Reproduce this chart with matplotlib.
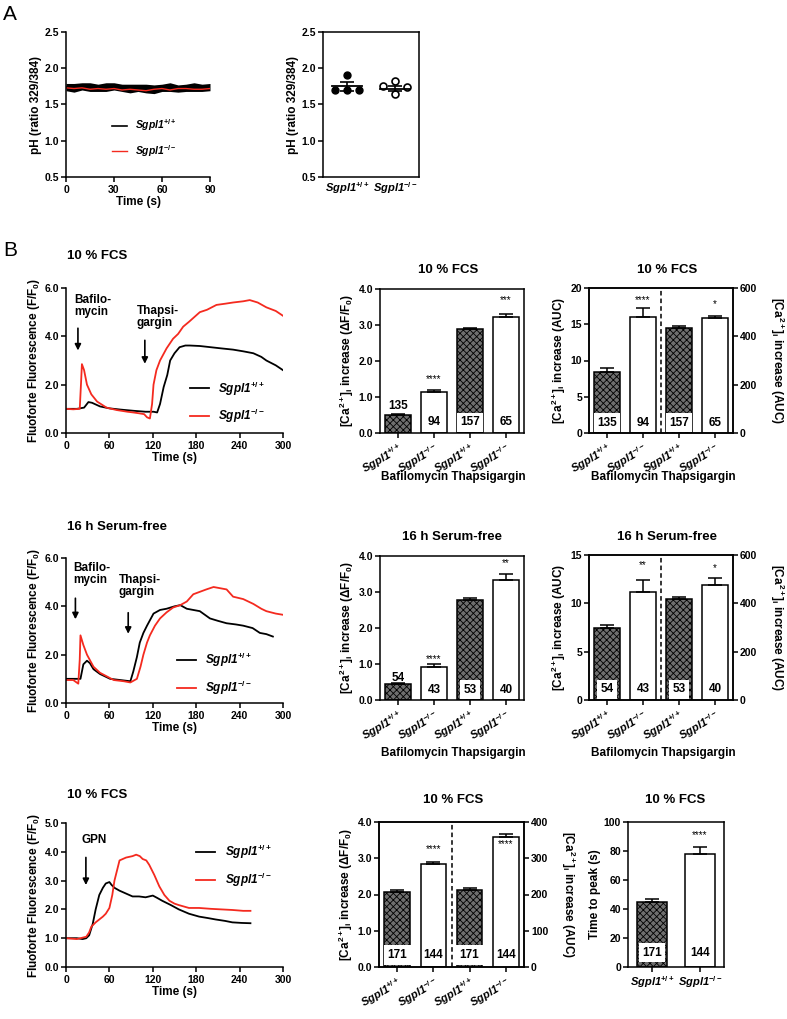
import matplotlib
matplotlib.use('Agg')
import matplotlib.pyplot as plt

plt.rcParams['font.family'] = ['Liberation Sans', 'DejaVu Sans']
plt.rcParams['font.weight'] = 'bold'
plt.rcParams['axes.labelweight'] = 'bold'
plt.rcParams['mathtext.fontset'] = 'custom'
plt.rcParams['mathtext.rm'] = 'Liberation Sans:bold'
plt.rcParams['mathtext.it'] = 'Liberation Sans:bold:italic'
plt.rcParams['mathtext.bf'] = 'Liberation Sans:bold'
plt.rcParams['mathtext.sf'] = 'Liberation Sans:bold'
plt.rcParams['mathtext.default'] = 'rm'
plt.rcParams['axes.linewidth'] = 1.1
plt.rcParams['xtick.major.width'] = 1.1
plt.rcParams['ytick.major.width'] = 1.1
plt.rcParams['xtick.major.size'] = 3.5
plt.rcParams['ytick.major.size'] = 3.5
plt.rcParams['xtick.major.pad'] = 2
plt.rcParams['ytick.major.pad'] = 1.5
plt.rcParams['xtick.labelsize'] = 7.5
plt.rcParams['ytick.labelsize'] = 7.5
plt.rcParams['hatch.linewidth'] = 0.6

WT = 'Sgpl1$^{+/+}$'
KO = 'Sgpl1$^{-/-}$'
RED = '#f42a1f'
LAB = 8.5     # axis label size
TITLE = 9.5

# ---- Panel A: pH over time ----
tA = [0, 5, 10, 15, 20, 25, 30, 35, 40, 45, 50, 55, 60, 65, 70, 75, 80, 85, 90]
phA_wt = [1.74, 1.73, 1.75, 1.74, 1.73, 1.74, 1.75, 1.73, 1.72, 1.73, 1.72, 1.71, 1.73, 1.74, 1.72, 1.73, 1.74, 1.73, 1.74]
phA_wt_sem = [0.05, 0.06, 0.05, 0.06, 0.05, 0.06, 0.05, 0.05, 0.06, 0.05, 0.06, 0.06, 0.05, 0.06, 0.05, 0.05, 0.06, 0.05, 0.05]
phA_ko = [1.73, 1.72, 1.73, 1.71, 1.72, 1.71, 1.72, 1.70, 1.71, 1.70, 1.69, 1.71, 1.72, 1.70, 1.72, 1.72, 1.71, 1.71, 1.72]

# Panel A: pH per experiment
ph_wt_pts = [1.90, 1.70, 1.70, 1.70]
ph_ko_pts = [1.83, 1.76, 1.74, 1.64]
ph_wt_mean, ph_wt_sem = 1.75, 0.06
ph_ko_mean, ph_ko_sem = 1.72, 0.04

# ---- Panel B traces ----
t1_wt = [0, 15, 25, 31, 36, 47, 60, 75, 93, 110, 121, 126, 130, 135, 140, 144, 150, 157, 165, 171, 185, 200, 215, 231, 245, 259, 270, 277, 290, 300]
y1_wt = [1.0, 1.0, 1.05, 1.28, 1.25, 1.1, 1.02, 0.97, 0.92, 0.88, 0.88, 0.85, 1.2, 1.9, 2.4, 3.0, 3.3, 3.55, 3.62, 3.62, 3.6, 3.55, 3.5, 3.45, 3.38, 3.3, 3.15, 3.0, 2.8, 2.6]
t1_ko = [0, 10, 19, 21, 22, 25, 29, 35, 43, 56, 70, 85, 93, 100, 108, 112, 116, 119, 121, 125, 130, 139, 148, 155, 162, 170, 185, 195, 208, 220, 231, 245, 254, 265, 277, 290, 300]
y1_ko = [1.0, 0.98, 1.0, 2.2, 2.85, 2.6, 2.0, 1.6, 1.3, 1.05, 0.95, 0.88, 0.85, 0.82, 0.78, 0.65, 0.6, 1.2, 2.0, 2.6, 3.0, 3.5, 3.9, 4.1, 4.4, 4.6, 5.0, 5.1, 5.3, 5.35, 5.4, 5.45, 5.5, 5.4, 5.2, 5.05, 4.85]

t2_wt = [0, 10, 20, 24, 29, 33, 38, 47, 61, 75, 89, 93, 98, 102, 107, 112, 121, 130, 139, 150, 158, 167, 176, 185, 199, 210, 222, 235, 245, 258, 268, 277, 286]
y2_wt = [1.0, 1.0, 1.0, 1.6, 1.75, 1.65, 1.4, 1.2, 1.0, 0.95, 0.9, 1.3, 1.9, 2.5, 2.9, 3.2, 3.7, 3.85, 3.9, 4.0, 4.05, 3.9, 3.85, 3.8, 3.5, 3.4, 3.3, 3.25, 3.2, 3.1, 2.9, 2.85, 2.75]
t2_ko = [0, 10, 17, 19, 20, 24, 29, 38, 47, 66, 80, 89, 98, 103, 107, 112, 116, 123, 130, 139, 148, 158, 167, 176, 185, 194, 204, 213, 222, 231, 245, 259, 270, 277, 290, 300]
y2_ko = [0.95, 0.95, 0.8, 1.8, 2.8, 2.4, 2.0, 1.5, 1.25, 0.95, 0.9, 0.85, 1.0, 1.5, 2.0, 2.5, 2.8, 3.2, 3.5, 3.75, 3.95, 4.05, 4.2, 4.5, 4.6, 4.7, 4.8, 4.75, 4.7, 4.4, 4.3, 4.1, 3.9, 3.8, 3.7, 3.65]

t3_wt = [0, 15, 23, 28, 32, 37, 41, 46, 51, 55, 60, 63, 67, 74, 83, 92, 101, 110, 120, 126, 133, 145, 156, 170, 184, 196, 207, 220, 230, 243, 255]
y3_wt = [1.0, 1.0, 0.97, 1.0, 1.1, 1.5, 2.0, 2.5, 2.75, 2.9, 2.95, 2.85, 2.75, 2.65, 2.55, 2.45, 2.45, 2.42, 2.48, 2.4, 2.3, 2.15, 2.0, 1.85, 1.75, 1.7, 1.65, 1.6, 1.55, 1.53, 1.52]
t3_ko = [0, 15, 28, 32, 35, 41, 46, 51, 55, 60, 64, 67, 71, 74, 83, 92, 97, 102, 106, 111, 115, 122, 129, 136, 143, 150, 156, 170, 184, 200, 215, 230, 245, 255]
y3_ko = [1.0, 0.97, 1.05, 1.2, 1.4, 1.55, 1.65, 1.75, 1.85, 2.05, 2.5, 3.0, 3.4, 3.7, 3.8, 3.85, 3.9, 3.85, 3.75, 3.7, 3.55, 3.2, 2.8, 2.5, 2.3, 2.2, 2.15, 2.05, 2.05, 2.02, 2.0, 1.98, 1.95, 1.95]

# ---- Panel B bar data (bars: WT, KO bafilomycin; WT, KO thapsigargin) ----
n1 = ['135', '94', '157', '65']
dff1 = [0.50, 1.13, 2.90, 3.22]
dff1_err = [0.04, 0.06, 0.03, 0.09]
auc1_baf = [8.4, 16.0]
auc1_baf_err = [0.5, 1.2]
auc1_tg = [435, 474]
auc1_tg_err = [6, 12]

n2 = ['54', '43', '53', '40']
dff2 = [0.45, 0.92, 2.77, 3.32]
dff2_err = [0.03, 0.09, 0.07, 0.18]
auc2_baf = [7.4, 11.2]
auc2_baf_err = [0.4, 1.2]
auc2_tg = [416, 476]
auc2_tg_err = [12, 28]

n3 = ['171', '144', '171', '144']
dff3 = [2.07, 2.83]
dff3_err = [0.06, 0.08]
auc3 = [212, 360]
auc3_err = [6, 6]
ttp3 = [45, 78]
ttp3_err = [2, 4.5]

W, H = 787, 1019
fig = plt.figure(figsize=(W / 100, H / 100), dpi=100)


def box(x0, y0, x1, y1):
    return fig.add_axes([x0 / W, 1 - y1 / H, (x1 - x0) / W, (y1 - y0) / H])


def ftext(x, y, s, **kw):
    fig.text(x / W, 1 - y / H, s, **kw)


def bars(ax, xs, vals, errs, hatched, width=0.7):
    for x, v, e, h in zip(xs, vals, errs, hatched):
        if h:
            ax.bar(x, v, width, color='#6e6e6e', edgecolor='black', hatch='xxxxx', lw=1.1, zorder=2)
        else:
            ax.bar(x, v, width, color='white', edgecolor='black', lw=1.1, zorder=2)
        ax.errorbar(x, v, yerr=[[0], [e]], fmt='none', ecolor='black', elinewidth=1.1,
                    capsize=5, capthick=1.1, zorder=3)


def nlabel(ax, x, y, s, boxed=False):
    kw = dict(ha='center', va='center', fontsize=8.5, fontweight='bold', zorder=5)
    if boxed:
        kw['bbox'] = dict(boxstyle='square,pad=0.3', fc='white', ec='none')
    ax.text(x, y, s, **kw)


def stars(ax, x, y, s):
    ax.text(x, y, s, ha='center', va='center', fontsize=7, fontweight='normal', zorder=5)


def geno_ticks(ax, labels, rotate=True):
    ax.set_xticks(range(len(labels)))
    if rotate:
        ax.set_xticklabels(labels, rotation=30, ha='right', rotation_mode='anchor',
                           fontstyle='italic', fontsize=8)
    else:
        ax.set_xticklabels(labels, fontstyle='italic', fontsize=8)


def right_label(ax2, s):
    ax2.set_ylabel(s, fontsize=LAB, rotation=-90, va='bottom', labelpad=8)


def trace(ax, tw, yw, tk, yk, ymax, ystep, leg_xy):
    ax.plot(tw, yw, color='black', lw=1.3, label=WT)
    ax.plot(tk, yk, color=RED, lw=1.3, label=KO)
    ax.set_xlim(0, 300)
    ax.set_xticks(range(0, 301, 60))
    ax.set_ylim(0, ymax)
    ax.set_yticks([i * ystep for i in range(int(round(ymax / ystep)) + 1)])
    ax.yaxis.set_major_formatter('{x:.1f}')
    ax.spines[['top', 'right']].set_visible(False)
    ax.set_xlabel('Time (s)', fontsize=LAB, labelpad=1)
    ax.set_ylabel('Fluoforte Fluorescence (F/F$_0$)', fontsize=LAB, labelpad=2)
    ax.legend(frameon=False, loc='upper left', bbox_to_anchor=leg_xy, borderaxespad=0,
              borderpad=0, handlelength=1.6, handletextpad=0.8, labelspacing=0.8,
              prop=dict(style='italic', weight='bold', size=8.5))


def arrow(ax, t, y0, y1):
    ax.annotate('', xy=(t, y1), xytext=(t, y0),
                arrowprops=dict(arrowstyle='-|>', color='black', lw=1.2, mutation_scale=9))


CA_DFF = '[Ca$^{2+}$]$_\\mathrm{i}$ increase (ΔF/F$_0$)'
CA_AUC = '[Ca$^{2+}$]$_\\mathrm{i}$ increase (AUC)'

# ================= Panel A =================
ftext(3, 15, 'A', fontsize=15, fontweight='normal', va='center')

ax = box(66, 32, 210, 177)
lo = [m - s for m, s in zip(phA_wt, phA_wt_sem)]
hi = [m + s for m, s in zip(phA_wt, phA_wt_sem)]
ax.fill_between(tA, lo, hi, color='black', lw=0)
ax.plot(tA, phA_wt, color='black', lw=1.2, label=WT)
ax.plot(tA, phA_ko, color=RED, lw=1.0, label=KO)
ax.set_xlim(0, 90)
ax.set_xticks([0, 30, 60, 90])
ax.set_ylim(0.5, 2.5)
ax.set_yticks([0.5, 1.0, 1.5, 2.0, 2.5])
ax.yaxis.set_major_formatter('{x:.1f}')
ax.spines[['top', 'right']].set_visible(False)
ax.set_xlabel('Time (s)', fontsize=LAB, labelpad=1)
ax.set_ylabel('pH (ratio 329/384)', fontsize=LAB, labelpad=2)
ax.legend(frameon=False, loc='upper left', bbox_to_anchor=(0.32, 0.41), borderaxespad=0,
          borderpad=0, handlelength=1.4, handletextpad=0.8, labelspacing=0.9,
          prop=dict(style='italic', weight='bold', size=7.5))

ax = box(323, 32, 419, 177)
jit = [0.0, -0.24, 0.0, 0.24]
jit_ko = [0.0, -0.24, 0.24, 0.0]
ax.plot([0 + j for j in jit], ph_wt_pts, 'o', ms=5, color='black', zorder=3)
ax.plot([1 + j for j in jit_ko], ph_ko_pts, 'o', ms=5, mfc='white', mec='black', mew=1.2, zorder=3)
for x, m, s in [(0, ph_wt_mean, ph_wt_sem), (1, ph_ko_mean, ph_ko_sem)]:
    ax.plot([x - 0.32, x + 0.32], [m, m], color='black', lw=1.3, zorder=4)
    ax.errorbar(x, m, yerr=s, fmt='none', ecolor='black', elinewidth=1.2, capsize=5, capthick=1.2, zorder=4)
ax.set_xlim(-0.5, 1.5)
ax.set_ylim(0.5, 2.5)
ax.set_yticks([0.5, 1.0, 1.5, 2.0, 2.5])
ax.yaxis.set_major_formatter('{x:.1f}')
ax.tick_params(axis='x', length=0)
geno_ticks(ax, [WT, KO], rotate=False)
ax.set_ylabel('pH (ratio 329/384)', fontsize=LAB, labelpad=2)

# ================= Panel B =================
ftext(3, 250, 'B', fontsize=15, fontweight='normal', va='center')

# ---- row 1: 10 % FCS ----
ftext(67, 256, '10 % FCS', fontsize=TITLE, va='center')
ax = box(66, 288, 283, 433)
trace(ax, t1_wt, y1_wt, t1_ko, y1_ko, 6.0, 2.0, (0.57, 0.37))
arrow(ax, 16.5, 4.45, 3.3)
arrow(ax, 109, 3.95, 2.75)
ax.text(12, 5.75, 'Bafilo-\nmycin', fontsize=8.5, va='top', ha='left', linespacing=1.05)
ax.text(98, 5.3, 'Thapsi-\ngargin', fontsize=8.5, va='top', ha='left', linespacing=1.05)

ftext(448, 270, '10 % FCS', fontsize=TITLE, ha='center', va='center')
ax = box(380, 289, 524, 433)
bars(ax, range(4), dff1, dff1_err, [True, False, True, False])
ax.set_xlim(-0.5, 3.5)
ax.set_ylim(0, 4)
ax.set_yticks([0, 1, 2, 3, 4])
ax.yaxis.set_major_formatter('{x:.1f}')
geno_ticks(ax, [WT, KO, WT, KO])
ax.set_ylabel(CA_DFF, fontsize=LAB, labelpad=2)
nlabel(ax, 0, 0.75, n1[0])
nlabel(ax, 1, 0.3, n1[1])
nlabel(ax, 2, 0.3, n1[2], boxed=True)
nlabel(ax, 3, 0.3, n1[3])
stars(ax, 1, 1.5, '****')
stars(ax, 3, 3.7, '***')
ftext(453, 477, 'Bafilomycin Thapsigargin', fontsize=LAB, ha='center', va='center')

ftext(667, 270, '10 % FCS', fontsize=TITLE, ha='center', va='center')
ax = box(589, 288, 733, 433)
ax2 = ax.twinx()
bars(ax, [0, 1], auc1_baf, auc1_baf_err, [True, False])
bars(ax2, [2, 3], auc1_tg, auc1_tg_err, [True, False])
ax.set_xlim(-0.5, 3.5)
ax.set_ylim(0, 20)
ax.set_yticks([0, 5, 10, 15, 20])
ax2.set_ylim(0, 600)
ax2.set_yticks([0, 200, 400, 600])
ax.axvline(1.5, color='black', lw=1.1, ls=(0, (3, 2)))
geno_ticks(ax, [WT, KO, WT, KO])
ax.set_ylabel(CA_AUC, fontsize=LAB, labelpad=2)
right_label(ax2, CA_AUC)
nlabel(ax, 0, 1.4, n1[0], boxed=True)
nlabel(ax, 1, 1.4, n1[1])
nlabel(ax2, 2, 42, n1[2], boxed=True)
nlabel(ax2, 3, 42, n1[3])
stars(ax, 1, 18.4, '****')
stars(ax2, 3, 534, '*')
ftext(663, 477, 'Bafilomycin Thapsigargin', fontsize=LAB, ha='center', va='center')

# ---- row 2: 16 h serum-free ----
ftext(67, 527, '16 h Serum-free', fontsize=TITLE, va='center')
ax = box(66, 558, 283, 703)
trace(ax, t2_wt, y2_wt, t2_ko, y2_ko, 6.0, 2.0, (0.51, 0.36))
arrow(ax, 13, 4.45, 3.35)
arrow(ax, 86, 3.85, 2.75)
ax.text(10, 5.85, 'Bafilo-\nmycin', fontsize=8.5, va='top', ha='left', linespacing=1.05)
ax.text(73, 5.35, 'Thapsi-\ngargin', fontsize=8.5, va='top', ha='left', linespacing=1.05)

ftext(452, 537, '16 h Serum-free', fontsize=TITLE, ha='center', va='center')
ax = box(380, 556, 524, 700)
bars(ax, range(4), dff2, dff2_err, [True, False, True, False])
ax.set_xlim(-0.5, 3.5)
ax.set_ylim(0, 4)
ax.set_yticks([0, 1, 2, 3, 4])
ax.yaxis.set_major_formatter('{x:.1f}')
geno_ticks(ax, [WT, KO, WT, KO])
ax.set_ylabel(CA_DFF, fontsize=LAB, labelpad=2)
nlabel(ax, 0, 0.62, n2[0])
nlabel(ax, 1, 0.28, n2[1])
nlabel(ax, 2, 0.28, n2[2], boxed=True)
nlabel(ax, 3, 0.28, n2[3])
stars(ax, 1, 1.15, '****')
stars(ax, 3, 3.8, '**')
ftext(453, 753, 'Bafilomycin Thapsigargin', fontsize=LAB, ha='center', va='center')

ftext(667, 537, '16 h Serum-free', fontsize=TITLE, ha='center', va='center')
ax = box(589, 555, 733, 700)
ax2 = ax.twinx()
bars(ax, [0, 1], auc2_baf, auc2_baf_err, [True, False])
bars(ax2, [2, 3], auc2_tg, auc2_tg_err, [True, False])
ax.set_xlim(-0.5, 3.5)
ax.set_ylim(0, 15)
ax.set_yticks([0, 5, 10, 15])
ax2.set_ylim(0, 600)
ax2.set_yticks([0, 200, 400, 600])
ax.axvline(1.5, color='black', lw=1.1, ls=(0, (3, 2)))
geno_ticks(ax, [WT, KO, WT, KO])
ax.set_ylabel(CA_AUC, fontsize=LAB, labelpad=2)
right_label(ax2, CA_AUC)
nlabel(ax, 0, 1.1, n2[0], boxed=True)
nlabel(ax, 1, 1.1, n2[1])
nlabel(ax2, 2, 44, n2[2], boxed=True)
nlabel(ax2, 3, 44, n2[3])
stars(ax, 1, 14.0, '**')
stars(ax2, 3, 544, '*')
ftext(663, 753, 'Bafilomycin Thapsigargin', fontsize=LAB, ha='center', va='center')

# ---- row 3: 10 % FCS, GPN ----
ftext(67, 795, '10 % FCS', fontsize=TITLE, va='center')
ax = box(66, 823, 283, 967)
trace(ax, t3_wt, y3_wt, t3_ko, y3_ko, 5.0, 1.0, (0.60, 0.86))
arrow(ax, 27.5, 3.9, 2.75)
ax.text(21, 4.4, 'GPN', fontsize=8.5, va='center', ha='left')

ftext(453, 800, '10 % FCS', fontsize=TITLE, ha='center', va='center')
ax = box(379, 822, 524, 967)
ax2 = ax.twinx()
bars(ax, [0, 1], dff3, dff3_err, [True, False])
bars(ax2, [2, 3], auc3, auc3_err, [True, False])
ax.set_xlim(-0.5, 3.5)
ax.set_ylim(0, 4)
ax.set_yticks([0, 1, 2, 3, 4])
ax.yaxis.set_major_formatter('{x:.1f}')
ax2.set_ylim(0, 400)
ax2.set_yticks([0, 100, 200, 300, 400])
ax.axvline(1.5, color='black', lw=1.1, ls=(0, (3, 2)))
geno_ticks(ax, [WT, KO, WT, KO])
ax.set_ylabel(CA_DFF, fontsize=LAB, labelpad=2)
right_label(ax2, CA_AUC)
nlabel(ax, 0, 0.33, n3[0], boxed=True)
nlabel(ax, 1, 0.33, n3[1])
nlabel(ax2, 2, 33, n3[2], boxed=True)
nlabel(ax2, 3, 33, n3[3])
stars(ax, 1, 3.25, '****')
stars(ax2, 3, 338, '****')

ftext(675, 800, '10 % FCS', fontsize=TITLE, ha='center', va='center')
ax = box(628, 822, 724, 967)
bars(ax, [0, 1], ttp3, ttp3_err, [True, False], width=0.62)
ax.set_xlim(-0.5, 1.5)
ax.set_ylim(0, 100)
ax.set_yticks([0, 20, 40, 60, 80, 100])
geno_ticks(ax, [WT, KO], rotate=False)
ax.set_ylabel('Time to peak (s)', fontsize=LAB, labelpad=2)
nlabel(ax, 0, 10, n3[0], boxed=True)
nlabel(ax, 1, 10, n3[1])
stars(ax, 1, 91, '****')

fig.savefig('out.png', dpi=100)
